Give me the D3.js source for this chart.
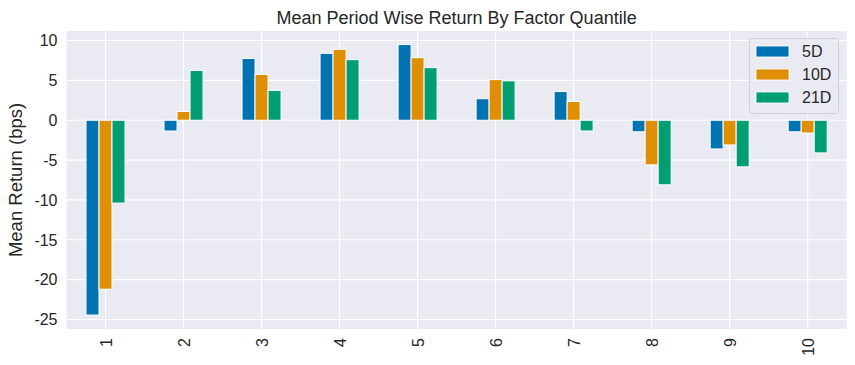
<!DOCTYPE html>
<html><head><meta charset="utf-8">
<script src="https://cdn.jsdelivr.net/npm/d3@7"></script>
<style>body{margin:0;background:#fff}svg text{font-family:"Liberation Sans",Arial,sans-serif;fill:#262626}</style>
</head><body><svg id="c" width="855" height="365"></svg>
<script>
const quantiles = ["1","2","3","4","5","6","7","8","9","10"];
const seriesNames = ["5D","10D","21D"];
const ret5D  = [-24.45, -1.35, 7.75, 8.4, 9.5, 2.7, 3.6, -1.45, -3.6, -1.45];
const ret10D = [-21.2, 1.1, 5.75, 8.9, 7.85, 5.1, 2.35, -5.6, -3.1, -1.6];
const ret21D = [-10.4, 6.25, 3.75, 7.6, 6.6, 4.95, -1.35, -8.1, -5.85, -4.1];
const yTicks = [-25,-20,-15,-10,-5,0,5,10];
const colors = ["#0173b2","#de8f05","#029e73"];
const seriesVals = [ret5D, ret10D, ret21D];

const svg = d3.select("#c");
const L=66.5, R=846.7, T=31, B=329;
const x = d3.scaleBand().domain(quantiles).range([L,R]).padding(0);
const y = d3.scaleLinear().domain([-26.2, 11.2]).range([B,T]);

svg.append("rect").attr("x",L).attr("y",T).attr("width",R-L).attr("height",B-T).attr("fill","#eaeaf2");

// grid
svg.append("g").selectAll("line").data(yTicks).join("line")
  .attr("x1",L).attr("x2",R).attr("y1",d=>y(d)).attr("y2",d=>y(d))
  .attr("stroke","#fff").attr("stroke-width",1.1);
svg.append("g").selectAll("line").data(quantiles).join("line")
  .attr("x1",d=>x(d)+x.bandwidth()/2).attr("x2",d=>x(d)+x.bandwidth()/2).attr("y1",T).attr("y2",B)
  .attr("stroke","#fff").attr("stroke-width",1.1);

// bars
const bw = x.bandwidth()*0.5/3;
const sub = d3.scaleBand().domain(seriesNames).range([0, bw*3]);
seriesNames.forEach((s,si)=>{
  svg.append("g").selectAll("rect").data(quantiles).join("rect")
    .attr("x",(q)=>x(q)+x.bandwidth()/2 - bw*1.5 + sub(s))
    .attr("width",bw)
    .attr("y",(q,i)=>y(Math.max(0,seriesVals[si][i])))
    .attr("height",(q,i)=>Math.abs(y(seriesVals[si][i])-y(0)))
    .attr("fill",colors[si]).attr("stroke","#fff").attr("stroke-width",1);
});

// y axis labels
svg.append("g").selectAll("text").data(yTicks).join("text")
  .attr("x",L-9).attr("y",d=>y(d)).attr("dy","0.36em").attr("text-anchor","end")
  .attr("font-size",16).text(d=>d);
// x axis labels rotated
svg.append("g").selectAll("text").data(quantiles).join("text")
  .attr("transform",d=>`translate(${x(d)+x.bandwidth()/2+6},${B+9}) rotate(-90)`)
  .attr("text-anchor","end").attr("font-size",16).text(d=>d);

svg.append("text").attr("x",(L+R)/2).attr("y",24).attr("text-anchor","middle")
  .attr("font-size",18).text("Mean Period Wise Return By Factor Quantile");
svg.append("text").attr("transform",`translate(22,${(T+B)/2}) rotate(-90)`).attr("text-anchor","middle")
  .attr("font-size",18.5).text("Mean Return (bps)");

// legend
const lg = svg.append("g");
lg.append("rect").attr("x",749.5).attr("y",38.5).attr("width",89).attr("height",75).attr("rx",3)
  .attr("fill","#eaeaf2").attr("fill-opacity",0.8).attr("stroke","#d0d0d8").attr("stroke-width",1);
seriesNames.forEach((s,i)=>{
  const cy = 51.5 + i*23;
  lg.append("rect").attr("x",756).attr("y",cy-5.5).attr("width",33).attr("height",11).attr("fill",colors[i]).attr("stroke","#fff").attr("stroke-width",0.8);
  lg.append("text").attr("x",802).attr("y",cy).attr("dy","0.36em").attr("font-size",16).text(s);
});
</script></body></html>
